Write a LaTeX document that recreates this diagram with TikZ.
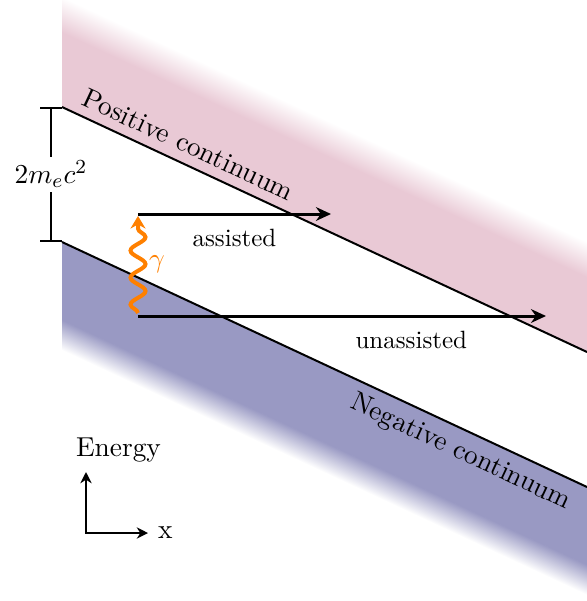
\documentclass[11pt,tikz,border=0pt]{standalone}
\usepackage{amsmath}
\usepackage{xcolor}
\usepackage{tikz}
\usetikzlibrary{arrows.meta,decorations.pathmorphing,positioning}
\definecolor{poscol}{RGB}{233,201,213}
\definecolor{negcol}{RGB}{153,153,195}
\definecolor{gamcol}{RGB}{255,128,0}

\begin{document}
\begin{tikzpicture}[x=0.4pt,y=0.4pt,
  cline/.style={thick},
  arrow/.style={-{Stealth[length=6pt,width=5.5pt]},very thick},
  axis/.style={{Stealth[length=4.5pt,width=4.5pt]}-{Stealth[length=4.5pt,width=4.5pt]},thick},
  gap/.style={thick,{Bar[width=8.8pt]}-{Bar[width=8.8pt]}},
  photon/.style={gamcol,ultra thick,decorate,decoration={snake,amplitude=3pt,segment length=10.8pt,post length=5pt},-{Stealth[length=5pt,width=6pt]}}
]
\useasboundingbox (0,0) rectangle (587,-601);
\begin{scope}
  \clip (62,0) rectangle (587,-601);
  \begin{scope}[transform canvas={shift={(62,-107)},rotate=-25}]
    \fill[poscol] (-200,0) rectangle (800,68);
    \shade[bottom color=poscol,top color=white] (-200,67.5) rectangle (800,100);
  \end{scope}
  \begin{scope}[transform canvas={shift={(62,-242)},rotate=-25}]
    \fill[negcol] (-200,0) rectangle (800,-71);
    \shade[top color=negcol,bottom color=white] (-200,-70.5) rectangle (800,-98);
  \end{scope}
\end{scope}
\coordinate (pl) at (62,-107);
\coordinate (pr) at (587,-352);
\coordinate (nl) at (62,-242);
\coordinate (nr) at (587,-487);
\draw[cline] (pl) -- node[pos=0.225,sloped,above] (poslbl) {Positive continuum} (pr);
\draw[cline] (nl) -- node[pos=0.777,sloped,below] (neglbl) {Negative continuum} (nr);
\coordinate (gt) at (51,-107);
\coordinate (gb) at (51,-242);
\draw[gap] (gt) -- node[fill=white,inner sep=1.5pt] (gaplbl) {$2m_ec^2$} (gb);
\coordinate (as) at (138,-214);
\coordinate (ae) at (331,-214);
\coordinate (us) at (138,-316);
\coordinate (ue) at (546,-316);
\draw[arrow] (as) -- node[below=2pt,font=\small] (aslbl) {assisted} (ae);
\draw[arrow] (us) -- node[pos=0.67,below=2pt,font=\small] (uslbl) {unassisted} (ue);
\coordinate (ph1) at (138,-313);
\coordinate (ph2) at (138,-216);
\draw[photon] (ph1) -- node[right] (gamlbl) {$\gamma$} (ph2);
\coordinate (o) at (86,-533);
\coordinate (ey) at (86,-472);
\coordinate (ex) at (148,-533);
\draw[axis] (ey) node[above,xshift=13pt] (elbl) {Energy} -- (o) -- (ex) node[right] (xlbl) {x};
\end{tikzpicture}
\end{document}
